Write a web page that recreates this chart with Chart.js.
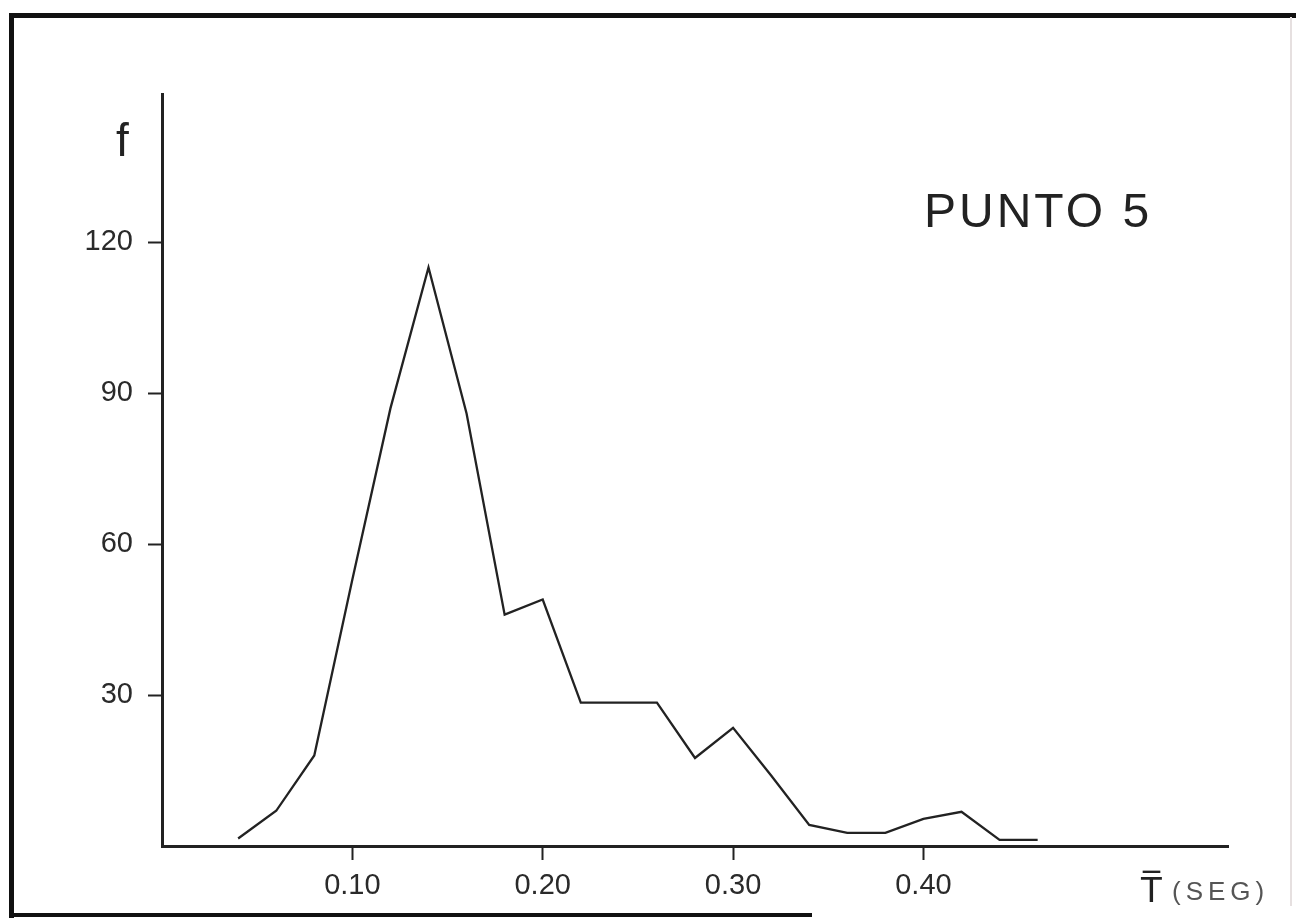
<!DOCTYPE html>
<html>
<head>
<meta charset="utf-8">
<script src="https://cdn.jsdelivr.net/npm/chart.js@4/dist/chart.umd.min.js"></script>
<style>
html,body{margin:0;padding:0;background:#fff;}
canvas{display:block;}
</style>
</head>
<body>
<canvas id="grafico" width="1296" height="918"></canvas>
<script>
// periodo medio T (seg) y frecuencia f, punto 5
const periodos = [0.04,0.06,0.08,0.10,0.12,0.14,0.16,0.18,0.20,0.22,0.24,0.26,0.28,0.30,0.32,0.34,0.36,0.38,0.40,0.42,0.44,0.46]
const frecuencias = [1.5,7,18,53,87,115,86,46,49,28.5,28.5,28.5,17.5,23.5,14,4.2,2.6,2.6,5.4,6.8,1.2,1.2]
const ticksX = [0.10,0.20,0.30,0.40]
const ticksY = [30,60,90,120]

const FUENTE = "'Liberation Sans', Arial, sans-serif"
const TINTA = "#222"

// marco del papel y rotulos
const rotulos = {
id:"rotulos",
beforeDraw(chart){
const ctx = chart.ctx
ctx.save()
ctx.fillStyle = "#fff"
ctx.fillRect(0,0,chart.width,chart.height)
ctx.strokeStyle = "#111"
ctx.lineCap = "square"
ctx.lineWidth = 5
ctx.beginPath()
ctx.moveTo(1296,15.5)
ctx.lineTo(11.5,15.5)
ctx.lineTo(11.5,918)
ctx.stroke()
ctx.lineWidth = 4
ctx.beginPath()
ctx.moveTo(11,915)
ctx.lineTo(810,915)
ctx.stroke()
ctx.strokeStyle = "#e6e0e0"
ctx.lineWidth = 2
ctx.beginPath()
ctx.moveTo(1291,18)
ctx.lineTo(1291,905)
ctx.stroke()
ctx.restore()
},
afterDraw(chart){
const ctx = chart.ctx
const a = chart.chartArea
ctx.save()
ctx.fillStyle = TINTA
ctx.textBaseline = "alphabetic"
ctx.textAlign = "left"

ctx.font = "46px " + FUENTE
ctx.fillText("f", a.left - 46, 156)

ctx.font = "48px " + FUENTE
ctx.letterSpacing = "3px"
ctx.fillText("PUNTO 5", 924, 227)

ctx.letterSpacing = "0px"
ctx.font = "34px 'DejaVu Sans', sans-serif"
ctx.fillText("T\u0305", 1141, 902)

ctx.fillStyle = "#555"
ctx.font = "26px " + FUENTE
ctx.letterSpacing = "5px"
ctx.fillText("(SEG)", 1172, 900)
ctx.restore()
}
}

const puntos = periodos.map((t,i)=>({x:t,y:frecuencias[i]}))

new Chart(document.getElementById("grafico"),{
type:"line",
data:{
datasets:[{
data:puntos,
borderColor:TINTA,
borderWidth:2.3,
pointRadius:0,
tension:0,
fill:false
}]
},
options:{
responsive:false,
animation:false,
layout:{padding:{left:0,top:94,right:68,bottom:0}},
plugins:{legend:{display:false},tooltip:{enabled:false}},
scales:{
x:{
type:"linear",
min:0,
max:0.56,
afterBuildTicks:s=>{s.ticks = ticksX.map(v=>({value:v}))},
afterFit:s=>{s.height = 72},
grid:{drawOnChartArea:false,tickLength:14,tickWidth:2,tickColor:TINTA},
border:{color:TINTA,width:3},
ticks:{
callback:v=>v.toFixed(2),
font:{size:29,family:FUENTE},
color:"#2a2a2a",
padding:9,
maxRotation:0,
autoSkip:false
}
},
y:{
min:0,
max:149.5,
afterBuildTicks:s=>{s.ticks = ticksY.map(v=>({value:v}))},
afterFit:s=>{s.width = 162},
grid:{drawOnChartArea:false,tickLength:14,tickWidth:2,tickColor:TINTA},
border:{color:TINTA,width:3},
ticks:{
font:{size:29,family:FUENTE},
color:"#2a2a2a",
padding:15
}
}
}
},
plugins:[rotulos]
})
</script>
</body>
</html>
